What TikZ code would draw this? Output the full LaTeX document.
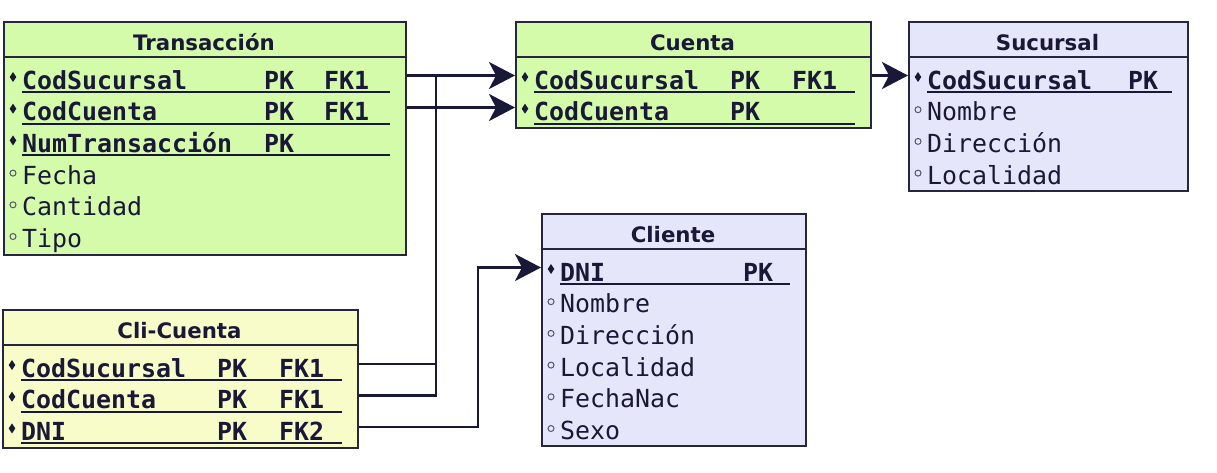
\documentclass[tikz,border=0pt]{standalone}
\usepackage{fontspec}
\usetikzlibrary{arrows.meta}
\newfontfamily\monoff{DejaVu Sans Mono}
\newfontfamily\sansff{DejaVu Sans}
\newcommand\mfnt{\monoff\fontsize{24.9}{30}\selectfont}
\newcommand\mbfnt{\monoff\bfseries\fontsize{24.9}{30}\selectfont}
\newcommand\hfnt{\sansff\bfseries\fontsize{21.3}{26}\selectfont}
\definecolor{ink}{HTML}{1A1838}
\definecolor{bord}{HTML}{26263F}
\definecolor{dotc}{HTML}{55556E}
\definecolor{greenf}{HTML}{D4FBAA}
\definecolor{yellf}{HTML}{F8FCC8}
\definecolor{lavf}{HTML}{E6E6FA}
\tikzset{
  entbox/.style={draw=bord, line width=2.3pt, anchor=north west, inner sep=0pt},
  hdr/.style={font=\hfnt, text=ink, anchor=base, inner sep=0pt},
  fld/.style={font=\mfnt, text=ink, anchor=base west, inner sep=0pt},
  keyf/.style={font=\mbfnt, text=ink, anchor=base west, inner sep=0pt},
  uline/.style={draw=ink, line width=2pt},
  sepline/.style={draw=bord, line width=2.3pt},
  conn/.style={draw=ink, line width=2.2pt},
  arr/.style={conn, -{Stealth[length=26pt,width=27pt,inset=7pt]}},
}
% entity: #1 id, #2 left, #3 top, #4 right, #5 bottom, #6 fill, #7 title
\newcommand\entity[7]{%
  \node[entbox, fill=#6, minimum width={(#4-#2)*1pt}, minimum height={(#5-#3)*1pt}] (#1) at (#2,#3) {};
  \draw[sepline] (#2,{#3+36}) -- (#4,{#3+36});
  \node[hdr] (#1-title) at ({(#2+#4)/2},{#3+29}) {#7};
}
% key row: #1 id, #2 left, #3 right, #4 baseline, #5 text, #6 pk x
\newcommand\keyrow[6]{%
  \fill[ink] ({#2+10},{#4-17}) -- ({#2+13.3},{#4-12}) -- ({#2+10},{#4-7}) -- ({#2+6.7},{#4-12}) -- cycle;
  \node[keyf] (#1) at ({#2+19},#4) {#5};
  \node[keyf] (#1-pk) at (#6,#4) {PK};
  \draw[uline] ({#2+19},{#4+3}) -- ({#3-15},{#4+3});
}
% fk column: #1 id, #2 x, #3 baseline, #4 text
\newcommand\fkcol[4]{\node[keyf] (#1-fk) at (#2,#3) {#4};}
% attribute row: #1 id, #2 left, #3 baseline, #4 text
\newcommand\attrow[4]{%
  \draw[dotc, line width=1pt] ({#2+10},{#3-11}) circle (3);
  \node[fld] (#1) at ({#2+19},#3) {#4};
}
\begin{document}
\begin{tikzpicture}[x=1pt,y=-1pt]
\fill[white] (0,0) rectangle (1217,472);
\useasboundingbox (0,0) rectangle (1217,472);

% Transaccion
\entity{tr}{3}{21}{405}{254}{greenf}{Transacción}
\keyrow{tr1}{3}{405}{89}{CodSucursal}{264}
\fkcol{tr1}{324}{89}{FK1}
\keyrow{tr2}{3}{405}{120.7}{CodCuenta}{264}
\fkcol{tr2}{324}{120.7}{FK1}
\keyrow{tr3}{3}{405}{152.4}{NumTransacción}{264}
\attrow{tr4}{3}{184.1}{Fecha}
\attrow{tr5}{3}{215.8}{Cantidad}
\attrow{tr6}{3}{247.5}{Tipo}

% Cuenta
\entity{cu}{515}{21}{870}{127}{greenf}{Cuenta}
\keyrow{cu1}{515}{870}{89}{CodSucursal}{730}
\fkcol{cu1}{792}{89}{FK1}
\keyrow{cu2}{515}{870}{120.7}{CodCuenta}{730}

% Sucursal
\entity{su}{908}{21}{1187}{190}{lavf}{Sucursal}
\keyrow{su1}{908}{1187}{89}{CodSucursal}{1128}
\attrow{su2}{908}{120.7}{Nombre}
\attrow{su3}{908}{152.4}{Dirección}
\attrow{su4}{908}{184.1}{Localidad}

% Cliente
\entity{cl}{541}{213}{805}{445}{lavf}{Cliente}
\keyrow{cl1}{541}{805}{281}{DNI}{743}
\attrow{cl2}{541}{312.7}{Nombre}
\attrow{cl3}{541}{344.4}{Dirección}
\attrow{cl4}{541}{376.1}{Localidad}
\attrow{cl5}{541}{407.8}{FechaNac}
\attrow{cl6}{541}{439.5}{Sexo}

% Cli-Cuenta
\entity{cc}{2}{309}{357}{447}{yellf}{Cli-Cuenta}
\keyrow{cc1}{2}{357}{377}{CodSucursal}{217}
\fkcol{cc1}{279}{377}{FK1}
\keyrow{cc2}{2}{357}{408.7}{CodCuenta}{217}
\fkcol{cc2}{279}{408.7}{FK1}
\keyrow{cc3}{2}{357}{440.4}{DNI}{217}
\fkcol{cc3}{279}{440.4}{FK2}

% ports
\coordinate (ptr1) at (tr.east |- 0,75.5);
\coordinate (ptr2) at (tr.east |- 0,107.5);
\coordinate (pcu1w) at (cu.west |- 0,75.5);
\coordinate (pcu2w) at (cu.west |- 0,107.5);
\coordinate (pcu1e) at (cu.east |- 0,75.5);
\coordinate (psu1) at (su.west |- 0,75.5);
\coordinate (pcl1) at (cl.west |- 0,267.5);
\coordinate (pcc1) at (cc.east |- 0,364);
\coordinate (pcc2) at (cc.east |- 0,395.5);
\coordinate (pcc3) at (cc.east |- 0,427);
\coordinate (jx) at (436,0);
\coordinate (kx) at (478,0);

% connectors
\draw[arr] (ptr1) -- (pcu1w);
\draw[arr] (ptr2) -- (pcu2w);
\draw[arr] (pcu1e) -- (psu1);
\draw[conn] (pcc1) -- (jx |- pcc1) -- (jx |- ptr1);
\draw[conn] (pcc2) -- (jx |- pcc2) -- (jx |- pcc1);
\draw[arr] (pcc3) -- (kx |- pcc3) -- (kx |- pcl1) -- (pcl1);
\end{tikzpicture}
\end{document}
